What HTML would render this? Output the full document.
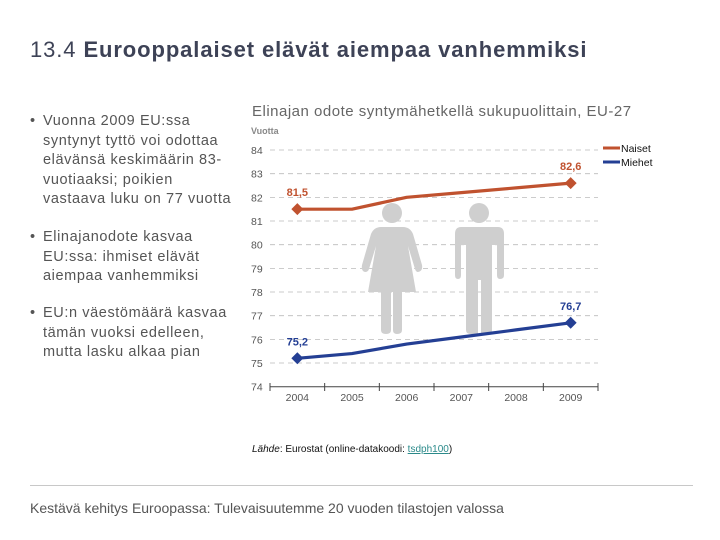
<!DOCTYPE html>
<html><head><meta charset="utf-8"><style>
body{margin:0;width:720px;height:540px;background:#fff;font-family:"Liberation Sans",sans-serif;overflow:hidden;position:relative}
.t{position:absolute;white-space:nowrap}
</style></head><body>
<div class="t" style="left:30px;top:37px;font-size:22px;letter-spacing:0.9px;color:#3d4256">13.4 <b>Eurooppalaiset elävät aiempaa vanhemmiksi</b></div>
<div style="position:absolute;left:30px;top:112px;width:215px;font-size:14.5px;line-height:19.5px;color:#555;letter-spacing:0.6px">
<div style="position:absolute;top:0;left:0"><span style="position:absolute;left:0">•</span><div style="margin-left:13px;white-space:nowrap">Vuonna 2009 EU:ssa<br>syntynyt tyttö voi odottaa<br>elävänsä keskimäärin 83-<br>vuotiaaksi; poikien<br>vastaava luku on 77 vuotta</div></div>
<div style="position:absolute;top:116px;left:0"><span style="position:absolute;left:0">•</span><div style="margin-left:13px;white-space:nowrap">Elinajanodote kasvaa<br>EU:ssa: ihmiset elävät<br>aiempaa vanhemmiksi</div></div>
<div style="position:absolute;top:192px;left:0"><span style="position:absolute;left:0">•</span><div style="margin-left:13px;white-space:nowrap">EU:n väestömäärä kasvaa<br>tämän vuoksi edelleen,<br>mutta lasku alkaa pian</div></div>
</div>
<div class="t" style="left:252px;top:103px;font-size:15px;letter-spacing:0.5px;color:#666">Elinajan odote syntymähetkellä sukupuolittain, EU-27</div>
<svg id="chart" width="720" height="540" style="position:absolute;left:0;top:0" font-family="Liberation Sans, sans-serif"></svg>
<div class="t" style="left:252px;top:444px;font-size:10px;color:#111"><i>Lähde</i>: Eurostat (online-datakoodi: <span style="color:#2a8a8a;text-decoration:underline">tsdph100</span>)</div>
<div style="position:absolute;left:30px;top:485px;width:663px;height:1px;background:#c8c8c8"></div>
<div class="t" style="left:30px;top:500px;font-size:14px;color:#555">Kestävä kehitys Euroopassa: Tulevaisuutemme 20 vuoden tilastojen valossa</div>
<script>
const years=["2004","2005","2006","2007","2008","2009"];
const women=[81.5,81.5,82.0,82.2,82.4,82.6];
const men=[75.2,75.4,75.8,76.1,76.4,76.7];
const yTicks=[74,75,76,77,78,79,80,81,82,83,84];
const womenLabel="81,5", womenEndLabel="82,6", menLabel="75,2", menEndLabel="76,7";
const NS="http://www.w3.org/2000/svg";
const svg=document.getElementById('chart');
const x0=270,x1=598,step=(x1-x0)/years.length;
const xs=i=>x0+step*(i+0.5);
const ys=v=>386.7-(v-74)*23.67;
function mk(t,a,p){const e=document.createElementNS(NS,t);for(const k in a)e.setAttribute(k,a[k]);(p||svg).appendChild(e);return e;}
const lab=mk('text',{x:251,y:134,'font-size':9,'font-weight':'bold',fill:'#888'});lab.textContent='Vuotta';


yTicks.forEach(v=>{
  if(v>74){const g=mk('line',{x1:x0,x2:x1,y1:ys(v),y2:ys(v),stroke:'#bbb','stroke-dasharray':'5,4','stroke-width':0.8});
  
  }
  const t=mk('text',{x:251,y:ys(v)+4,'font-size':10.5,fill:'#555'});t.textContent=v;
  
  
});
const fig=mk('g',{fill:'#cfcfcf'});


mk('circle',{cx:392,cy:213,r:10},fig);
mk('path',{d:'M381,227 L403,227 Q410,227 413,234 L422,265 Q423,271 418,272 Q416,272 415,269 L408,246 L416,292 L402,292 L402,330 Q402,334 397,334 Q393,334 393,330 L393,292 L391,292 L391,330 Q391,334 386,334 Q381,334 381,330 L381,292 L368,292 L376,246 L369,269 Q368,272 365,272 Q361,271 362,265 L371,234 Q374,227 381,227 Z'},fig);
mk('circle',{cx:479,cy:213,r:10},fig);
mk('path',{d:'M461,227 L498,227 Q504,227 504,234 L504,275 Q504,279 500,279 Q497,279 497,275 L497,245 L492,245 L492,330 Q492,334 486,334 L481,334 L481,280 L478,280 L478,334 L471,334 Q466,334 466,330 L466,245 L461,245 L461,275 Q461,279 458,279 Q455,279 455,275 L455,234 Q455,227 461,227 Z'},fig);
const ax=mk('line',{x1:x0,x2:x1,y1:386.7,y2:386.7,stroke:'#444','stroke-width':1});


for(let i=0;i<=years.length;i++){const tk=mk('line',{x1:x0+step*i,x2:x0+step*i,y1:383,y2:391,stroke:'#444'});

}
years.forEach((y,i)=>{const t=mk('text',{x:xs(i),y:401,'font-size':10.5,fill:'#555','text-anchor':'middle'});t.textContent=y;

});
function series(vals,col,name,l1,l2){
  const p=mk('polyline',{points:vals.map((v,i)=>xs(i)+','+ys(v)).join(' '),fill:'none',stroke:col,'stroke-width':3.2,'stroke-linejoin':'round'});
  
  
  [0,vals.length-1].forEach((i,k)=>{
    const x=xs(i),y=ys(vals[i]);
    const d=mk('path',{d:`M${x},${y-6} L${x+6},${y} L${x},${y+6} L${x-6},${y} Z`,fill:col});
    
    
    const t=mk('text',{x:x,y:y-13,'font-size':11,'font-weight':'bold',fill:col,'text-anchor':'middle'});t.textContent=k?l2:l1;
    
    
  });
}
series(women,'#c0522f','women',womenLabel,womenEndLabel);
series(men,'#243f94','men',menLabel,menEndLabel);
[['Naiset','#c0522f',148],['Miehet','#243f94',162]].forEach(([n,c,y])=>{
  const l=mk('line',{x1:603,x2:620,y1:y,y2:y,stroke:c,'stroke-width':3});
  
  
  const t=mk('text',{x:621,y:y+4,'font-size':10.5,fill:'#111'});t.textContent=n;
  
  
});
</script>
</body></html>
